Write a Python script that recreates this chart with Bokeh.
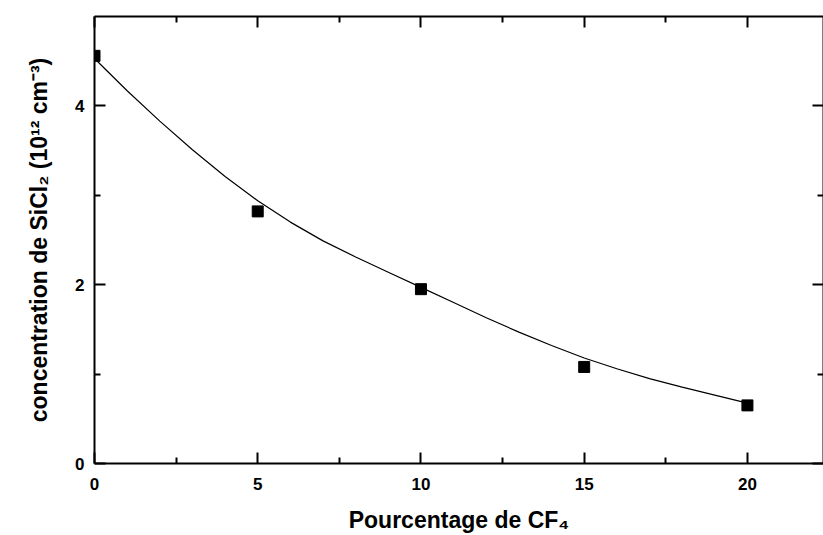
from bokeh.plotting import figure
from bokeh.models import Range1d, LinearAxis, FixedTicker
from bokeh.embed import file_html
from bokeh.resources import INLINE

# Measured data (CF4 percentage vs SiCl2 concentration, 1e12 cm^-3)
cf4_pct = [0, 5, 10, 15, 20]
sicl2_conc = [4.56, 2.82, 1.95, 1.08, 0.65]

# Fitted curve
fit_x = [0, 1, 2, 3, 4, 5, 6, 7, 8, 9, 10, 11, 12, 13, 14, 15, 16, 17, 18, 19, 20]
fit_y = [4.53, 4.17, 3.83, 3.51, 3.21, 2.94, 2.70, 2.49, 2.31, 2.14, 1.97,
         1.80, 1.63, 1.47, 1.32, 1.18, 1.06, 0.95, 0.855, 0.765, 0.675]

x_major = [0, 5, 10, 15, 20]
x_minor = [2.5, 7.5, 12.5, 17.5]
y_major = [0, 2, 4]
y_minor = [1, 3]

FONT = "Liberation Sans"

p = figure(width=823, height=535, output_backend="svg", toolbar_location=None,
           x_range=Range1d(0, 22.33), y_range=Range1d(0, 5.0),
           min_border_left=94, min_border_right=0, min_border_top=16,
           min_border_bottom=72,
           x_axis_label="Pourcentage de CF\u2084",
           y_axis_label="concentration de SiCl\u2082 (10\u00b9\u00b2 cm\u207b\u00b3)")
p.grid.visible = False
p.outline_line_color = None


def style(ax, ticks, minor, show_labels=True):
    ax.ticker = FixedTicker(ticks=ticks, minor_ticks=minor)
    ax.axis_line_color = "black"
    ax.axis_line_width = 2
    ax.major_tick_line_color = "black"
    ax.major_tick_line_width = 2
    ax.minor_tick_line_color = "black"
    ax.minor_tick_line_width = 2
    ax.major_tick_in = 11
    ax.major_tick_out = 0
    ax.minor_tick_in = 6
    ax.minor_tick_out = 0
    ax.major_label_text_font = FONT
    ax.major_label_text_font_style = "bold"
    ax.axis_label_text_font = FONT
    ax.axis_label_text_font_style = "bold"
    ax.axis_label_text_color = "black"
    ax.axis_label_text_font_size = "23px"
    if show_labels:
        ax.major_label_text_font_size = "17px"
        ax.major_label_text_color = "black"
    else:
        ax.major_label_text_font_size = "1px"
        ax.major_label_text_color = None
        ax.major_label_standoff = 0


xa = p.xaxis[0]
ya = p.yaxis[0]
style(xa, x_major, x_minor)
style(ya, y_major, y_minor)
xa.major_label_standoff = 14
xa.axis_label_standoff = 14
ya.major_label_standoff = 10
ya.axis_label_standoff = 20

top = LinearAxis()
style(top, x_major, x_minor, show_labels=False)
p.add_layout(top, "above")
right = LinearAxis()
style(right, y_major, y_minor, show_labels=False)
p.add_layout(right, "right")

p.line(fit_x, fit_y, line_color="black", line_width=1.2)
p.scatter(cf4_pct, sicl2_conc, marker="square", size=11,
          fill_color="black", line_color="black")

open("out.html", "w").write(file_html(p, INLINE))
